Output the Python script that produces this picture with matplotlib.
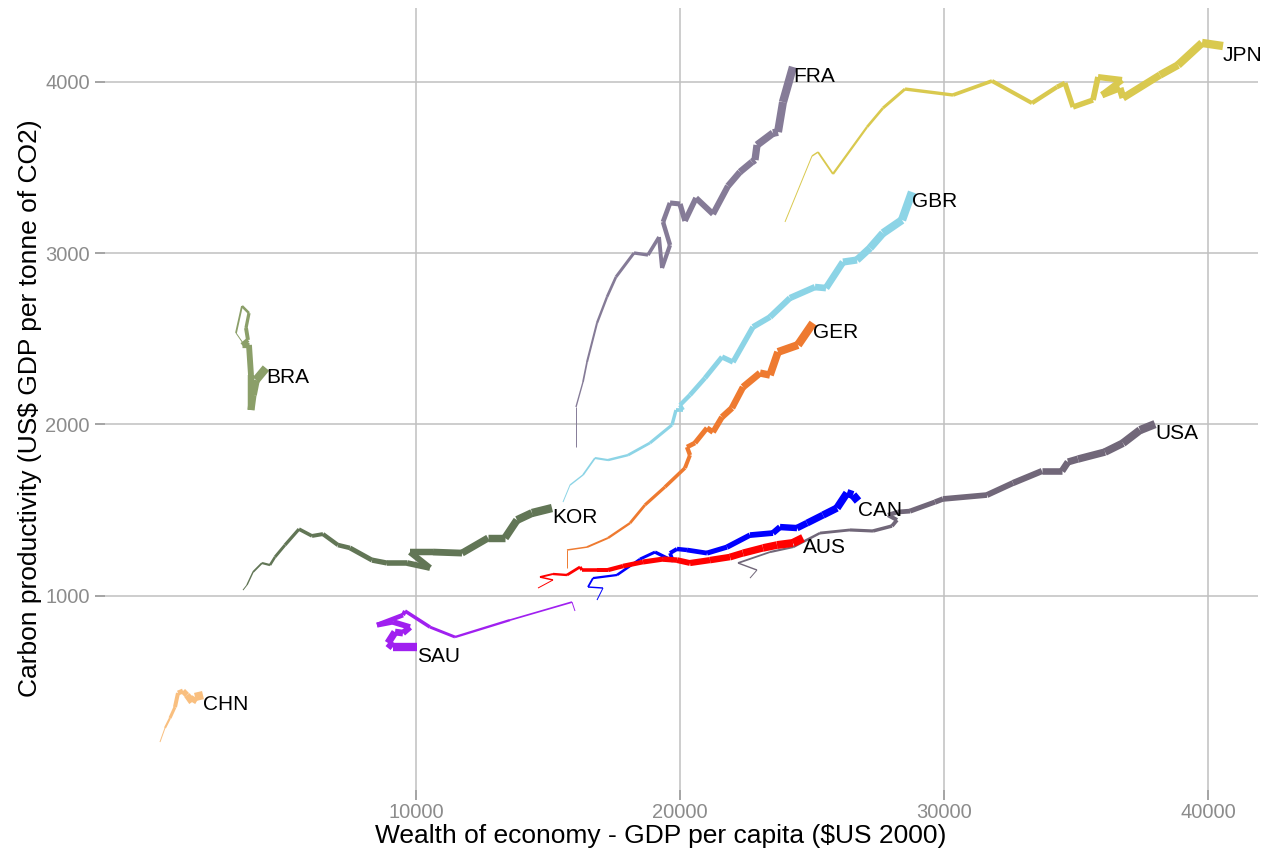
import numpy as np
import matplotlib.pyplot as plt
from matplotlib.collections import LineCollection

plt.rcParams['font.family'] = ['Liberation Sans', 'DejaVu Sans']

# GDP per capita ($US 2000) and carbon productivity (US$ GDP / t CO2), oldest year first
countries = ["BRA", "CHN", "SAU", "KOR", "FRA", "JPN", "GBR", "GER", "USA", "CAN", "AUS"]

bra_x = [3447, 3182, 3409, 3674, 3561, 3636, 3409, 3674, 3750, 3750, 3826, 3939, 4318]
bra_y = [2475, 2534, 2691, 2650, 2563, 2493, 2464, 2464, 2288, 2084, 2172, 2259, 2329]

chn_x = [303, 492, 682, 871, 985, 1174, 1326, 1515, 1629, 1932]
chn_y = [146, 228, 286, 350, 432, 444, 420, 379, 409, 420]

sau_x = [16023, 15910, 13561, 11478, 10531, 9584, 9508, 8523, 9129, 9773, 9508, 9205, 8940, 9129, 10038]
sau_y = [911, 963, 858, 759, 817, 911, 887, 829, 847, 817, 782, 788, 724, 701, 701]

kor_x = [3447, 3599, 3826, 4167, 4470, 4659, 5038, 5568, 6061, 6477, 7046, 7500, 8334, 8902,
         9659, 10531, 9773, 10644, 11743, 12728, 13372, 13826, 14394, 15152]
kor_y = [1033, 1063, 1138, 1191, 1179, 1226, 1296, 1389, 1349, 1360, 1296, 1279, 1208, 1191,
         1191, 1162, 1255, 1255, 1249, 1337, 1337, 1442, 1483, 1512]

fra_x = [16061, 16061, 16326, 16478, 16857, 17235, 17576, 18258, 18788, 19205, 19319, 19622, 19357, 19622,
         20001, 20190, 20607, 21251, 21819, 22273, 22728, 22842, 22917, 23523, 23713, 23902, 24281]
fra_y = [1868, 2102, 2248, 2364, 2592, 2744, 2861, 3001, 2989, 3094, 2913, 3047, 3182, 3293,
         3287, 3188, 3322, 3228, 3392, 3474, 3532, 3544, 3631, 3701, 3707, 3882, 4087]

jpn_x = [23978, 25001, 25228, 25796, 27084, 27690, 28524, 30342, 31819, 33334, 34281, 34584,
         34887, 35645, 35834, 36744, 35986, 36668, 36781, 38183, 38865, 39774, 40569]
jpn_y = [3182, 3567, 3590, 3462, 3736, 3847, 3958, 3923, 4005, 3876, 3970, 3993,
         3853, 3894, 4028, 4011, 3923, 3964, 3906, 4040, 4098, 4227, 4209]

gbr_x = [15569, 15834, 16326, 16781, 17273, 18031, 18864, 19698, 19849, 20114, 20001, 20379, 20948,
         21592, 22008, 22766, 23410, 24167, 25114, 25531, 26175, 26705, 27198, 27690, 28410, 28789]
gbr_y = [1547, 1646, 1705, 1804, 1792, 1821, 1892, 1997, 2084, 2084, 2113, 2172, 2271,
         2394, 2364, 2569, 2627, 2738, 2802, 2796, 2948, 2960, 3030, 3117, 3193, 3357]

ger_x = [15720, 15720, 16478, 17273, 18107, 18675, 19432, 20190, 20379, 20266, 20569, 21023,
         21251, 21592, 21970, 22387, 23031, 23410, 23713, 24470, 25039]
ger_y = [1162, 1267, 1284, 1337, 1424, 1530, 1635, 1746, 1821, 1868, 1892, 1979,
         1955, 2043, 2096, 2218, 2300, 2288, 2423, 2464, 2592]

usa_x = [22652, 22917, 22198, 23410, 24281, 25304, 26440, 27311, 28031, 28221, 27880, 28258, 28713,
         29660, 29963, 31630, 32615, 33713, 34471, 34698, 35077, 36100, 36781, 37425, 37994]
usa_y = [1103, 1150, 1191, 1255, 1284, 1366, 1384, 1378, 1407, 1442, 1471, 1489, 1494,
         1547, 1565, 1588, 1658, 1728, 1728, 1781, 1798, 1839, 1891, 1967, 2002]

can_x = [16857, 17084, 16516, 16705, 17614, 18485, 19054, 19735, 19622, 19887, 20266, 21023,
         21781, 22652, 23523, 23789, 24433, 24811, 25417, 25948, 26327, 26554, 26743]
can_y = [975, 1045, 1051, 1103, 1121, 1214, 1255, 1203, 1249, 1273, 1267, 1249,
         1284, 1354, 1366, 1401, 1395, 1424, 1471, 1512, 1600, 1588, 1553]

aus_x = [14622, 15190, 14697, 15190, 15720, 16213, 16288, 16857, 17273, 17841, 18599, 19357,
         19887, 20379, 21137, 21895, 22387, 23145, 23675, 24281, 24660]
aus_y = [1045, 1092, 1109, 1127, 1121, 1168, 1150, 1150, 1150, 1173, 1197, 1214,
         1208, 1191, 1208, 1226, 1249, 1279, 1296, 1308, 1337]

series = {
    "BRA": (bra_x, bra_y), "CHN": (chn_x, chn_y), "SAU": (sau_x, sau_y),
    "KOR": (kor_x, kor_y), "FRA": (fra_x, fra_y), "JPN": (jpn_x, jpn_y),
    "GBR": (gbr_x, gbr_y), "GER": (ger_x, ger_y), "USA": (usa_x, usa_y),
    "CAN": (can_x, can_y), "AUS": (aus_x, aus_y),
}

colors = {
    "BRA": "#8b9f69", "CHN": "#f9bf7f", "SAU": "#a020f0", "KOR": "#627656",
    "FRA": "#857b97", "JPN": "#d9c94f", "GBR": "#8cd4e6", "GER": "#ee7a30",
    "USA": "#716779", "CAN": "#0000ff", "AUS": "#ff0000",
}

fig = plt.figure(figsize=(12.61, 8.5), dpi=100)
ax = fig.add_axes([105 / 1261, 1 - 790 / 850, 1153 / 1261, 782 / 850])

for c in countries:
    x, y = series[c]
    pts = np.column_stack([x, y])
    segs = np.stack([pts[:-1], pts[1:]], axis=1)
    # line gets thicker with time
    t = np.linspace(0, 1, len(segs))
    widths = 0.7 + 5.3 * t ** 0.9
    lc = LineCollection(segs, colors=colors[c], linewidths=widths, capstyle='butt', zorder=3)
    ax.add_collection(lc)
    ax.text(x[-1], y[-1], c, ha='left', va='top', fontsize=15, color='black', zorder=4)

ax.set_xlim(-1780, 41895)
ax.set_ylim(-134, 4431)
ax.set_xticks([10000, 20000, 30000, 40000])
ax.set_yticks([1000, 2000, 3000, 4000])
ax.grid(True, color='#c0c0c0', linewidth=1.1)
ax.set_axisbelow(True)
for s in ax.spines.values():
    s.set_visible(False)
ax.tick_params(colors='#8c8c8c', labelsize=14.5, length=7, width=1.1, labelcolor='#8c8c8c')
ax.tick_params(axis='x', pad=2)
ax.tick_params(axis='y', pad=4)
ax.set_xlabel("Wealth of economy - GDP per capita ($US 2000)", fontsize=19)
ax.set_ylabel("Carbon productivity (US$ GDP per tonne of CO2)", fontsize=19)
ax.xaxis.set_label_coords(0.482, -0.044, transform=ax.transAxes)
ax.yaxis.set_label_coords(-0.055, 0.488, transform=ax.transAxes)

fig.savefig("out.png", dpi=100)
